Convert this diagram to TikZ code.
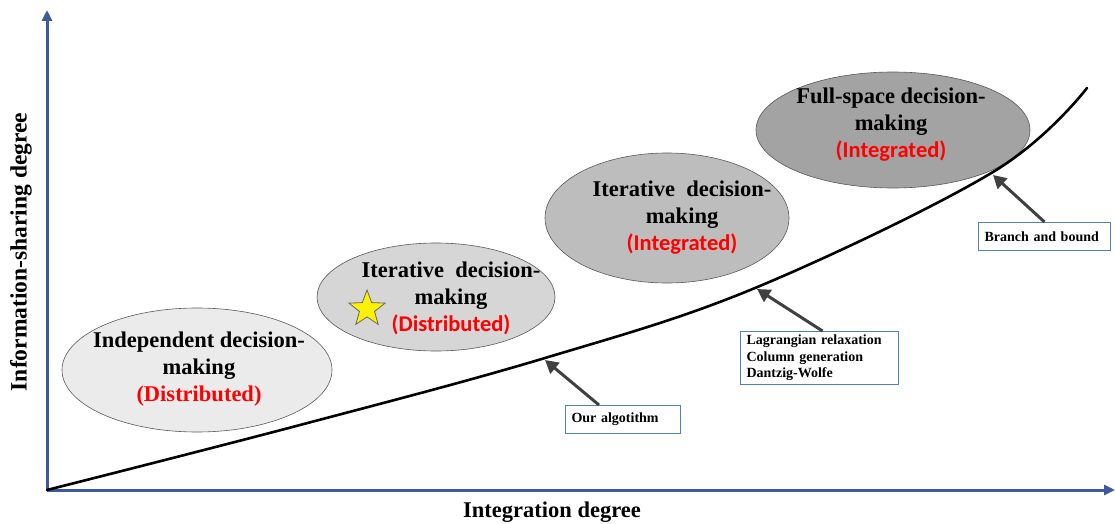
\documentclass[tikz,border=0pt]{standalone}
\usepackage{fontspec}
\setmainfont{Liberation Serif}
\newfontfamily\calib{Carlito}
\usetikzlibrary{shapes.geometric,arrows.meta}
\definecolor{axisblue}{HTML}{3F5A9A}
\definecolor{boxblue}{HTML}{4F81BD}
\definecolor{arrgray}{HTML}{404040}
\definecolor{redtxt}{HTML}{FF0000}
\tikzset{
  ell/.style={ellipse, draw=black!65, line width=0.6pt, inner sep=0pt},
  etext/.style={align=center, font=\fontsize{22.5}{27}\selectfont\bfseries},
  boxnode/.style={draw=boxblue, line width=1pt, fill=white, font=\fontsize{14}{16.5}\selectfont\bfseries, align=left, inner xsep=6pt, inner ysep=4pt},
  pointer/.style={draw=arrgray, line width=3pt, -{Triangle[length=13pt,width=14pt]}},
  axis/.style={draw=axisblue, line width=3pt, -{Triangle[length=11pt,width=10pt]}},
}
\begin{document}
\begin{tikzpicture}[x=1pt,y=-1pt]
\useasboundingbox (0,0) rectangle (1115,524);
% axes
\coordinate (O) at (47,490);
\coordinate (Ytop) at (47,10);
\coordinate (Xend) at (1115,490);
\draw[axis] (O) -- (Ytop);
\draw[axis] (O) -- (Xend);
\node[rotate=90, font=\fontsize{23.5}{26}\selectfont\bfseries] (ylab) at (21,252) {Information-sharing degree};
\node[font=\fontsize{22.5}{26}\selectfont\bfseries] (xlab) at (552,512) {Integration degree};
% ellipses
\node[ell, fill=black!8, minimum width=270, minimum height=124] (e1) at (197,370) {};
\node[ell, fill=black!16, minimum width=238, minimum height=108] (e2) at (436,297) {};
\node[ell, fill=black!26, minimum width=244, minimum height=130] (e3) at (667,218) {};
\node[ell, fill=black!36, minimum width=274, minimum height=116] (e4) at (893,130) {};
% texts
\node[etext] (t1) at (199,369) {Independent decision-\\making\\{\color{redtxt}(Distributed)}};
\node[etext] (t2) at (451,298) {Iterative\ \ decision-\\making\\{\calib\color{redtxt}(Distributed)}};
\node[etext] (t3) at (682,218) {Iterative\ \ decision-\\making\\{\calib\color{redtxt}(Integrated)}};
\node[etext] (t4) at (891,125) {Full-space decision-\\making\\{\calib\color{redtxt}(Integrated)}};
% star
\node[star, star points=5, star point ratio=2.4, minimum size=38pt, inner sep=0pt, fill=yellow, draw=black!60, line width=0.8pt] (st) at (367,309) {};
% curve
\draw[line width=2.6pt, line cap=round] plot[smooth, tension=0.6] coordinates {(47,490) (300,425) (545,358) (755,288) (993,172) (1087,88)};
\coordinate (c1) at (545,360);
\coordinate (c2) at (757,289);
\coordinate (c3) at (993,175);
% boxes
\node[boxnode, text width=103, minimum height=28, anchor=north west] (b1) at (565,405) {Our algotithm};
\node[boxnode, text width=146, minimum height=53, anchor=north west, inner ysep=2pt] (b2) at (740,331) {Lagrangian relaxation\\Column generation\\Dantzig-Wolfe};
\node[boxnode, text width=120, minimum height=28, anchor=north west] (b3) at (978,222) {Branch and bound};
% pointers
\draw[pointer] ([xshift=-24pt]b1.north) -- (c1);
\draw[pointer] ([xshift=3pt]b2.north) -- (c2);
\draw[pointer] ([xshift=0pt]b3.north) -- (c3);
\end{tikzpicture}
\end{document}
